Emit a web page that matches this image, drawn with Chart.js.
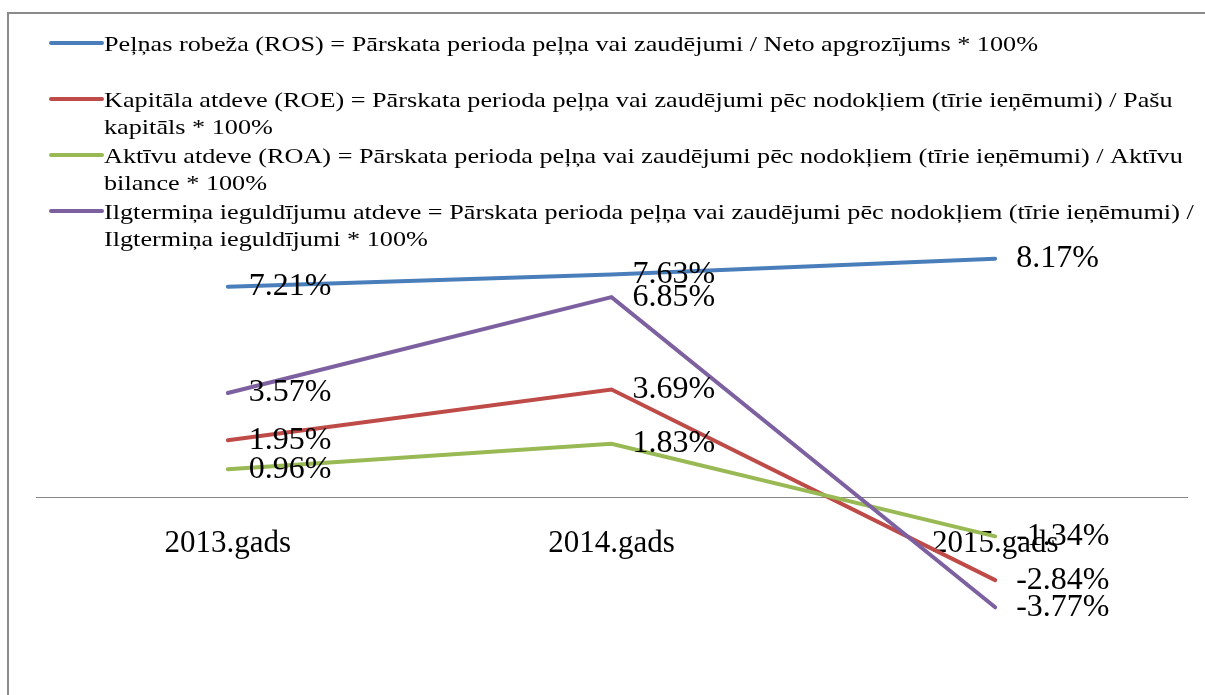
<!DOCTYPE html>
<html>
<head>
<meta charset="utf-8">
<script src="https://cdn.jsdelivr.net/npm/chart.js@4.4.1/dist/chart.umd.min.js"></script>
<style>
  html, body { margin: 0; padding: 0; background: #fff; }
</style>
</head>
<body>
<canvas id="chart" width="1205" height="695"></canvas>
<script>
// data
const years = ['2013.gads', '2014.gads', '2015.gads'];
const ros = [7.21, 7.63, 8.17];
const roe = [1.95, 3.69, -2.84];
const roa = [0.96, 1.83, -1.34];
const ilgt = [3.57, 6.85, -3.77];

const seriesNames = [
    'Peļņas robeža (ROS) = Pārskata perioda peļņa vai zaudējumi / Neto apgrozījums * 100%',
    'Kapitāla atdeve (ROE) = Pārskata perioda peļņa vai zaudējumi pēc nodokļiem (tīrie ieņēmumi) / Pašu kapitāls * 100%',
    'Aktīvu atdeve (ROA) = Pārskata perioda peļņa vai zaudējumi pēc nodokļiem (tīrie ieņēmumi) / Aktīvu bilance * 100%',
    'Ilgtermiņa ieguldījumu atdeve = Pārskata perioda peļņa vai zaudējumi pēc nodokļiem (tīrie ieņēmumi) / Ilgtermiņa ieguldījumi * 100%'
];
const seriesColors = ['#4A7EBB', '#BE4B48', '#98B954', '#7D60A0'];

const serif = "'Liberation Serif', 'Times New Roman', serif";

// gray frame (left + top edge only, like the cropped original)
const framePlugin = {
    id: 'frame',
    beforeDraw(chart) {
        const ctx = chart.ctx;
        ctx.save();
        ctx.fillStyle = '#fff';
        ctx.fillRect(0, 0, chart.width, chart.height);
        ctx.strokeStyle = '#8a8a8a';
        ctx.lineWidth = 2;
        ctx.beginPath();
        ctx.moveTo(8, chart.height);
        ctx.lineTo(8, 13);
        ctx.lineTo(chart.width, 13);
        ctx.stroke();
        ctx.restore();
    }
};

// legend with wrapped lines, drawn by hand
const legendPlugin = {
    id: 'wrapLegend',
    afterDraw(chart) {
        const ctx = chart.ctx;
        ctx.save();
        ctx.font = '22px ' + serif;
        ctx.fillStyle = '#000';
        ctx.textBaseline = 'middle';
        const textX = 104;
        const sx = 934 / ctx.measureText(seriesNames[0]).width;
        const maxW = (1200 - textX) / sx;
        chart.data.datasets.forEach((ds, i) => {
            const y = 43 + i * 56;
            ctx.strokeStyle = ds.borderColor;
            ctx.lineWidth = 4;
            ctx.lineCap = 'round';
            ctx.beginPath();
            ctx.moveTo(51, y);
            ctx.lineTo(102, y);
            ctx.stroke();

            const words = ds.label.split(' ');
            const lines = [];
            let cur = '';
            words.forEach(w => {
                const test = cur ? cur + ' ' + w : w;
                if (ctx.measureText(test).width > maxW && cur) {
                    lines.push(cur);
                    cur = w;
                } else {
                    cur = test;
                }
            });
            lines.push(cur);
            lines.forEach((ln, k) => {
                ctx.save();
                ctx.translate(textX, y + 2 + k * 27);
                ctx.scale(sx, 1);
                ctx.fillText(ln, 0, 0);
                ctx.restore();
            });
        });
        ctx.restore();
    }
};

// value labels to the right of each point
const valuePlugin = {
    id: 'values',
    afterDatasetsDraw(chart) {
        const ctx = chart.ctx;
        ctx.save();
        ctx.font = '32px ' + serif;
        ctx.fillStyle = '#000';
        ctx.textAlign = 'left';
        ctx.textBaseline = 'middle';
        chart.data.datasets.forEach((ds, i) => {
            const meta = chart.getDatasetMeta(i);
            meta.data.forEach((pt, j) => {
                ctx.fillText(ds.data[j].toFixed(2) + '%', pt.x + 21, pt.y);
            });
        });
        ctx.restore();
    }
};

const seriesData = [ros, roe, roa, ilgt];

new Chart(document.getElementById('chart'), {
    type: 'line',
    data: {
        labels: years,
        datasets: seriesData.map((d, i) => ({
            label: seriesNames[i],
            data: d,
            borderColor: seriesColors[i],
            backgroundColor: seriesColors[i],
            borderWidth: 4,
            borderCapStyle: 'round',
            pointRadius: 0,
            tension: 0,
            fill: false,
            order: 3 - i
        }))
    },
    options: {
        responsive: false,
        animation: false,
        layout: { padding: { top: 249, bottom: 8, left: 36, right: 18 } },
        plugins: {
            legend: { display: false },
            tooltip: { enabled: false }
        },
        scales: {
            x: {
                type: 'category',
                offset: true,
                position: { y: 0 },
                grid: { display: false, drawTicks: false },
                border: { display: true, color: '#868686', width: 1 },
                ticks: {
                    color: '#000',
                    font: { family: serif, size: 31 },
                    padding: 28,
                    maxRotation: 0,
                    autoSkip: false
                }
            },
            y: {
                display: false,
                min: -6.5,
                max: 8.5
            }
        }
    },
    plugins: [framePlugin, legendPlugin, valuePlugin]
});
</script>
</body>
</html>
